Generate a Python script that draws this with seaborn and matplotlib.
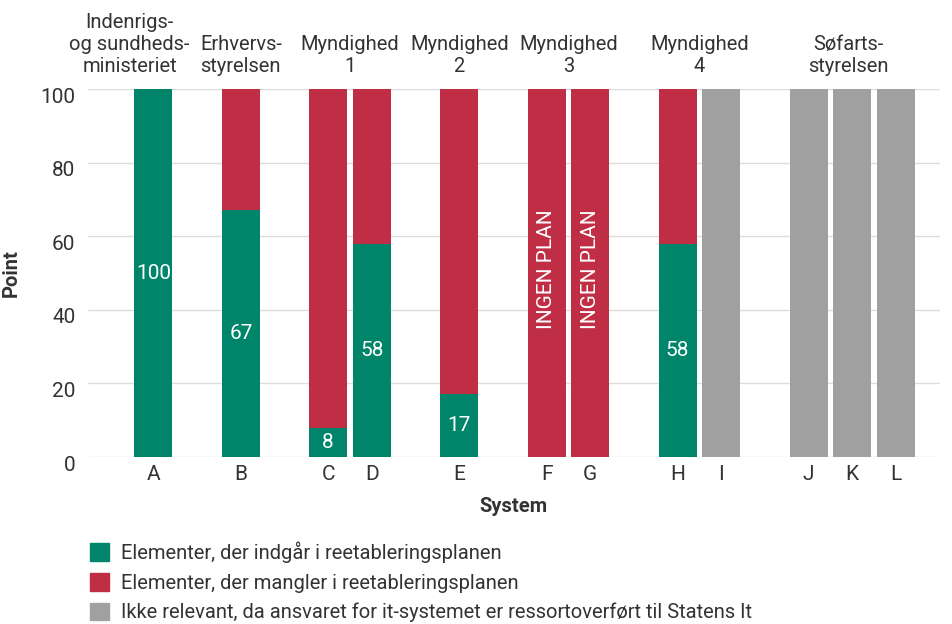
import pandas as pd
import numpy as np
import seaborn as sns
import matplotlib.pyplot as plt
import matplotlib.transforms as mtransforms
from matplotlib.patches import Patch

# Data
systems = ['A', 'B', 'C', 'D', 'E', 'F', 'G', 'H', 'I', 'J', 'K', 'L']
positions = [0, 2, 4, 5, 7, 9, 10, 12, 13, 15, 16, 17]
included = [100, 67, 8, 58, 17, 0, 0, 58, 0, 0, 0, 0]
missing = [0, 33, 92, 42, 83, 100, 100, 42, 0, 0, 0, 0]
not_relevant = [0, 0, 0, 0, 0, 0, 0, 0, 100, 100, 100, 100]
no_plan = ['F', 'G']

groups = ['Indenrigs-\nog sundheds-\nministeriet', 'Erhvervs-\nstyrelsen', 'Myndighed\n1',
          'Myndighed\n2', 'Myndighed\n3', 'Myndighed\n4', 'Søfarts-\nstyrelsen']
group_pos = [-0.55, 2, 4.5, 7, 9.5, 12.5, 15.9]

legend_labels = ['Elementer, der indgår i reetableringsplanen',
                 'Elementer, der mangler i reetableringsplanen',
                 'Ikke relevant, da ansvaret for it-systemet er ressortoverført til Statens It']

GREEN = '#00856A'
RED = '#C02E45'
GREY = '#A0A0A0'
TEXT = '#333333'
FS = 14.5

df = pd.DataFrame({'system': systems, 'pos': positions, 'included': included,
                   'missing': missing, 'not_relevant': not_relevant})
df['top'] = df['included'] + df['missing']

sns.set_style('white')
plt.rcParams['font.family'] = ['Roboto', 'DejaVu Sans']

fig = plt.figure(figsize=(9.52, 6.24), dpi=100)
ax = fig.add_axes([0.0924, 0.2676, 0.8946, 0.5897])

# red layer (included + missing), grey layer, green on top
red_df = df[df['top'] > 0]
sns.barplot(data=red_df, x='pos', y='top', native_scale=True, color=RED,
            width=0.87, saturation=1, linewidth=0, ax=ax, zorder=2)
grey_df = df[df['not_relevant'] > 0]
sns.barplot(data=grey_df, x='pos', y='not_relevant', native_scale=True, color=GREY,
            width=0.87, saturation=1, linewidth=0, ax=ax, zorder=2)
green_df = df[df['included'] > 0]
sns.barplot(data=green_df, x='pos', y='included', native_scale=True, color=GREEN,
            width=0.87, saturation=1, linewidth=0, ax=ax, zorder=3)

green_container = ax.containers[-1]
ax.bar_label(green_container, labels=[str(v) for v in green_df['included']],
             label_type='center', color='white', fontsize=FS + 0.5)

for s in no_plan:
    p = df.loc[df['system'] == s, 'pos'].iloc[0]
    ax.text(p, 51, 'INGEN PLAN', rotation=90, ha='center', va='center',
            color='white', fontsize=FS + 0.5)

ax.set_xlim(-1.5, 18)
ax.set_ylim(0, 100)
ax.set_yticks(range(0, 101, 20))
ax.set_xticks(positions)
ax.set_xticklabels(systems)
ax.grid(axis='y', color='#DDDDDD', linewidth=1.0, zorder=0)
ax.set_axisbelow(True)
sns.despine(ax=ax, left=True, bottom=True)
ax.tick_params(axis='both', length=0, labelsize=FS + 0.5, colors=TEXT)
ax.tick_params(axis='x', pad=6)
ax.tick_params(axis='y', pad=9)

offset = mtransforms.ScaledTranslation(0, -6 / 100, fig.dpi_scale_trans)
for lab in ax.get_yticklabels():
    lab.set_transform(lab.get_transform() + offset)

ax.set_xlabel('System', fontsize=FS, fontweight='bold', color=TEXT, labelpad=9)
ax.set_ylabel('Point', fontsize=FS, fontweight='bold', color=TEXT, labelpad=14)

trans = mtransforms.blended_transform_factory(ax.transData, ax.transAxes)
for g, p in zip(groups, group_pos):
    ax.text(p, 1.035, g, transform=trans, ha='center', va='bottom',
            fontsize=FS, color=TEXT, linespacing=1.2)

handles = [Patch(color=c) for c in [GREEN, RED, GREY]]
fig.legend(handles, legend_labels, loc='upper left',
           bbox_to_anchor=(0.086, 0.145), bbox_transform=fig.transFigure,
           frameon=False, fontsize=FS, handlelength=0.95, handleheight=0.95,
           handletextpad=0.6, labelspacing=0.5, labelcolor=TEXT,
           borderpad=0.4, borderaxespad=0)

fig.savefig('out.png', dpi=100)
